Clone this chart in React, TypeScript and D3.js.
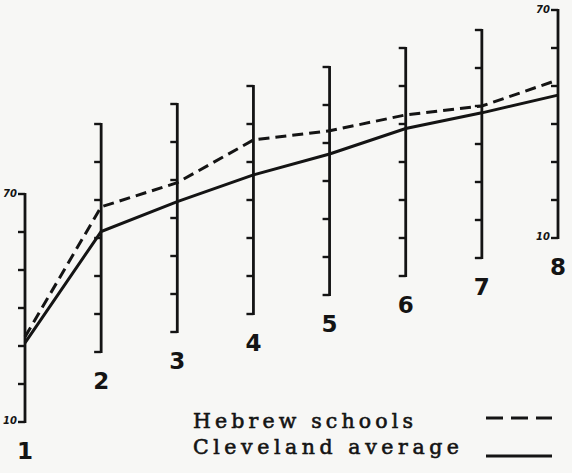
import React from "react";
import * as d3 from "d3";

// Grades (one vertical scale per grade)
const grades = ["1", "2", "3", "4", "5", "6", "7", "8"];
// Scale range shown on every vertical axis
const scaleMin = 10;
const scaleMax = 70;
const scaleTicks = [10, 20, 30, 40, 50, 60, 70];
// Series values read on each grade's own scale
const hebrewSchools = [32.4, 48.2, 49.3, 55.8, 53.2, 52.4, 50.0, 51.6];
const clevelandAverage = [30.8, 41.7, 44.3, 46.6, 47.1, 48.8, 48.2, 47.6];
const legendLabels = ["Hebrew schools", "Cleveland average"];

// Layout (not data): vertical position of the top of each grade's scale
const W = 572;
const H = 473;
const axisTops = [194, 124, 104, 86, 67, 48, 30, 10];
const axisLen = 228;
const ink = "#141414";

export default function App() {
  const x = d3.scalePoint<string>().domain(grades).range([25, 558]);
  const yScales = axisTops.map((t) =>
    d3.scaleLinear().domain([scaleMin, scaleMax]).range([t + axisLen, t])
  );
  const line = d3
    .line<number>()
    .x((_, i) => x(grades[i]) as number)
    .y((v, i) => yScales[i](v));

  return (
    <svg
      width={W}
      height={H}
      style={{ position: "absolute", left: 0, top: 0, background: "#f7f7f5" }}
    >
      <rect width={W} height={H} fill="#f7f7f5" />
      {grades.map((g, i) => {
        const cx = x(g) as number;
        const y = yScales[i];
        return (
          <g key={g}>
            <line
              x1={cx}
              x2={cx}
              y1={y(scaleMax) - 1}
              y2={y(scaleMin) + 1}
              stroke={ink}
              strokeWidth={2.8}
            />
            {scaleTicks.map((t) => (
              <line
                key={t}
                x1={cx - 7}
                x2={cx}
                y1={y(t)}
                y2={y(t)}
                stroke={ink}
                strokeWidth={2.4}
              />
            ))}
            <text
              x={cx}
              y={y(scaleMin) + 37}
              textAnchor="middle"
              fontFamily="DejaVu Sans"
              fontWeight="bold"
              fontSize={23}
              fill={ink}
            >
              {g}
            </text>
          </g>
        );
      })}
      {[0, grades.length - 1].map((i) => {
        const cx = x(grades[i]) as number;
        const y = yScales[i];
        return (
          <g key={"lab" + i} fontFamily="DejaVu Sans" fontStyle="italic" fontWeight="bold" fontSize={10} fill={ink}>
            <text x={cx - 8} y={y(scaleMax) + 3} textAnchor="end">
              {scaleMax}
            </text>
            <text x={cx - 8} y={y(scaleMin) + 2} textAnchor="end">
              {scaleMin}
            </text>
          </g>
        );
      })}
      <path
        d={line(hebrewSchools) || ""}
        fill="none"
        stroke={ink}
        strokeWidth={3}
        strokeDasharray="11 6"
      />
      <path
        d={line(clevelandAverage) || ""}
        fill="none"
        stroke={ink}
        strokeWidth={3}
      />
      <g fontFamily="DejaVu Serif" fontSize={20.5} fill={ink} stroke={ink} strokeWidth={0.6}>
        <text x={193} y={428} textLength={220} lengthAdjust="spacing">
          {legendLabels[0]}
        </text>
        <text x={193} y={454} textLength={266} lengthAdjust="spacing">
          {legendLabels[1]}
        </text>
      </g>
      <line x1={486} x2={552} y1={418} y2={418} stroke={ink} strokeWidth={3.2} strokeDasharray="17 8" />
      <line x1={486} x2={552} y1={456} y2={456} stroke={ink} strokeWidth={3.2} />
    </svg>
  );
}
